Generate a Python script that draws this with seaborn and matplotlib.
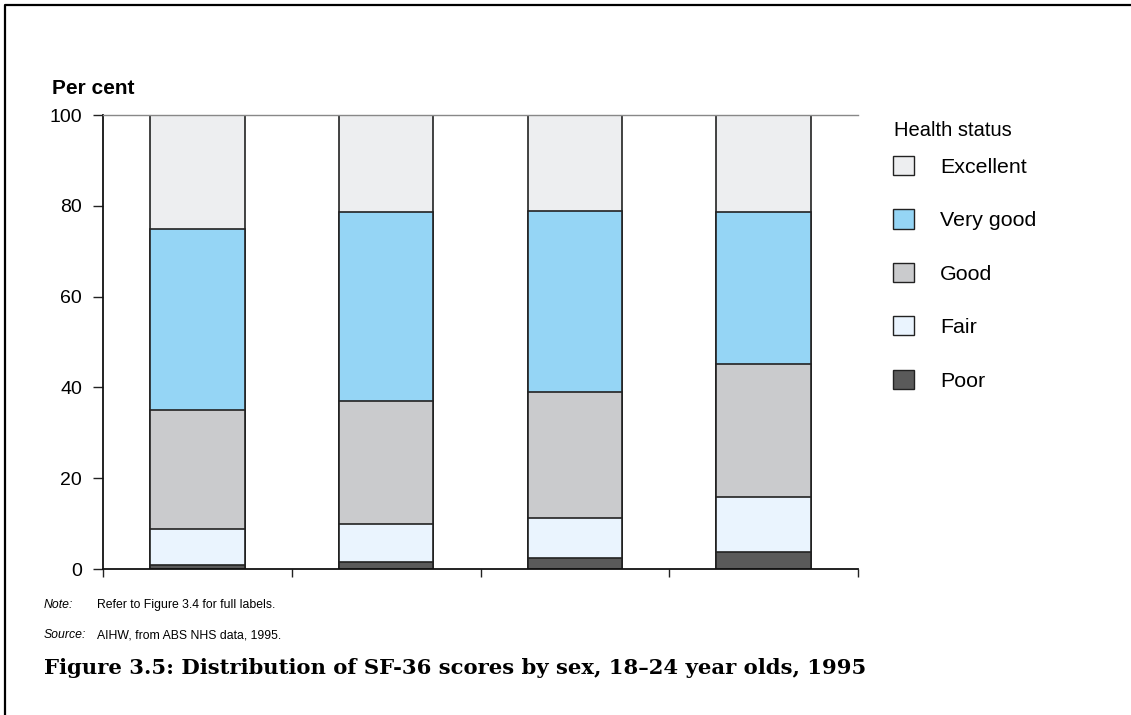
import numpy as np
import pandas as pd
import seaborn as sns
import matplotlib.pyplot as plt
from matplotlib.lines import Line2D
from matplotlib.patches import Patch

groups = ["1", "2", "3", "4"]
status = ["Poor", "Fair", "Good", "Very good", "Excellent"]
poor = [0.9, 1.5, 2.4, 3.7]
fair = [7.9, 8.4, 8.8, 12.2]
good = [26.2, 27.1, 27.8, 29.3]
very_good = [39.9, 41.6, 39.9, 33.4]
excellent = [25.1, 21.4, 21.1, 21.4]
colors = {"Poor": "#5a5a5a", "Fair": "#eaf4fe", "Good": "#cacbcd",
          "Very good": "#95d5f5", "Excellent": "#edeef0"}

sns.set_style("white")
plt.rcParams["font.family"] = ["Liberation Sans", "DejaVu Sans"]
plt.rcParams["text.color"] = "black"
plt.rcParams["xtick.color"] = "black"
plt.rcParams["ytick.color"] = "black"

df = pd.DataFrame({"group": groups, "Poor": poor, "Fair": fair, "Good": good,
                   "Very good": very_good, "Excellent": excellent})
cum = df[status].cumsum(axis=1)
cum["group"] = groups

fig = plt.figure(figsize=(11.31, 7.15), dpi=100)
ax = fig.add_axes([103 / 1131, 1 - 569 / 715, 755 / 1131, 454 / 715])

# stacked bars: draw the cumulative totals from the top level down
for s in status[::-1]:
    sns.barplot(data=cum, x="group", y=s, color=colors[s], width=0.5,
                edgecolor="#222222", linewidth=1.2, saturation=1, ax=ax)

ax.set_xlim(-0.5, 3.5)
ax.set_ylim(0, 100)
ax.set_xticks([-0.5, 0.5, 1.5, 2.5, 3.5])
ax.set_xticklabels([])
ax.set_yticks([0, 20, 40, 60, 80, 100])
ax.set_xlabel("")
ax.set_ylabel("")
ax.tick_params(axis="x", length=6, width=1, color="#222222", direction="out", bottom=True)
ax.tick_params(axis="y", length=7, width=1, color="#222222", direction="out", left=True,
               labelsize=14, pad=8, labelcolor="black")
for side in ["left", "bottom"]:
    ax.spines[side].set_color("#111111")
    ax.spines[side].set_linewidth(1.3)
ax.spines["top"].set_color("#888888")
ax.spines["top"].set_linewidth(1)
ax.spines["right"].set_visible(False)

fig.text(52 / 1131, 1 - 88 / 715, "Per cent", fontsize=15, fontweight="bold",
         va="center", ha="left")

fig.text(894 / 1131, 1 - 130 / 715, "Health status", fontsize=14.5, va="center", ha="left")
handles = [Patch(facecolor=colors[s], edgecolor="#222222", linewidth=1) for s in status[::-1]]
leg = fig.legend(handles, status[::-1], loc="upper left",
                 bbox_to_anchor=(893 / 1131, 1 - 156 / 715), frameon=False,
                 borderpad=0, borderaxespad=0,
                 fontsize=15.4, handlelength=1.0, handleheight=1.0,
                 handletextpad=1.2, labelspacing=1.52)

side_font = ["Liberation Sans Narrow", "Liberation Sans"]
fig.text(44 / 1131, 1 - 605 / 715, "Note:", fontsize=8.8, style="italic", va="center",
         family=side_font)
fig.text(97 / 1131, 1 - 605 / 715, "Refer to Figure 3.4 for full labels.", fontsize=8.8,
         va="center", family=side_font)
fig.text(44 / 1131, 1 - 635 / 715, "Source:", fontsize=8.8, style="italic", va="center",
         family=side_font)
fig.text(97 / 1131, 1 - 635 / 715, "AIHW, from ABS NHS data, 1995.", fontsize=8.8,
         va="center", family=side_font)
fig.text(44 / 1131, 1 - 668 / 715,
         "Figure 3.5: Distribution of SF-36 scores by sex, 18\u201324 year olds, 1995",
         fontsize=15.2, fontweight="bold", va="center",
         family=["DejaVu Serif", "Liberation Serif"])

# page frame (top and left edges)
fig.add_artist(Line2D([5 / 1131, 5 / 1131, 1], [0, 1 - 5 / 715, 1 - 5 / 715],
                      transform=fig.transFigure, color="black", linewidth=1.6))

fig.savefig("out.png", dpi=100)
